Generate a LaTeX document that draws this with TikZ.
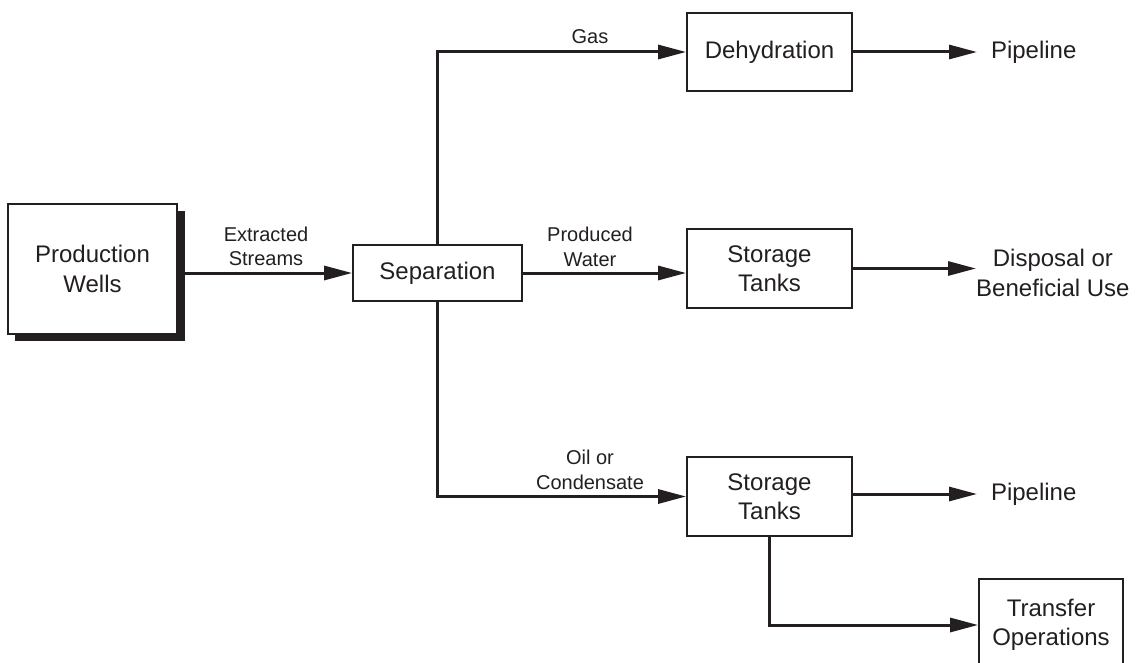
\documentclass[tikz,border=0pt]{standalone}
\usepackage{fontspec}
\setmainfont{Liberation Sans}
\usetikzlibrary{arrows.meta}
\definecolor{ink}{HTML}{231F20}
\begin{document}
\begin{tikzpicture}[x=1pt,y=-1pt,
  box/.style={draw=ink,line width=1.8pt,fill=white,text=ink,align=center,
    font=\fontsize{24}{29.5}\selectfont,inner sep=0pt},
  big/.style={text=ink,align=center,font=\fontsize{24}{29.5}\selectfont,inner sep=0pt},
  lbl/.style={text=ink,align=center,font=\fontsize{20}{24.5}\selectfont,inner sep=0pt},
  flow/.style={draw=ink,line width=3pt,-{Triangle[length=28pt,width=14pt]}},
  line/.style={draw=ink,line width=3pt}]
\clip (0,0) rectangle (1142,663);
% Production wells with shadow
\fill[ink] (15,211) rectangle (185,341);
\node[box,minimum width=169pt,minimum height=130pt] (pw) at (92.5,269) {Production\\Wells};
\node[box,minimum width=169pt,minimum height=56pt] (sep) at (437.5,273) {Separation};
\node[box,minimum width=165pt,minimum height=78pt] (dehy) at (769.5,52) {Dehydration};
\node[box,minimum width=165pt,minimum height=79pt] (st1) at (769.5,268.5) {Storage\\Tanks};
\node[box,minimum width=165pt,minimum height=79pt] (st2) at (769.5,496.5) {Storage\\Tanks};
\node[box,minimum width=144pt,minimum height=92pt] (tr) at (1051,625) {Transfer\\Operations};
% outputs
\node[big,anchor=west,outer xsep=14pt] (pipe1) at (977,52) {Pipeline};
\node[big,anchor=west] (disp) at (976,273) {Disposal or\\Beneficial Use};
\node[big,anchor=west,outer xsep=14pt] (pipe2) at (977,494) {Pipeline};
% labels
\node[lbl] (lext) at (266,246.5) {Extracted\\Streams};
\node[lbl] (lgas) at (590,37) {Gas};
\node[lbl] (lpw) at (590,247) {Produced\\Water};
\node[lbl] (loil) at (590,470) {Oil or\\Condensate};
% connectors
\draw[flow] (pw.east |- sep.west) -- (sep.west);
\draw[flow] (sep.north) |- (dehy.west);
\draw[flow] (sep.east) -- (sep.east -| st1.west);
\draw[flow] (sep.south) |- (st2.west);
\draw[flow] (dehy.east) -- (pipe1.west);
\draw[flow] (st1.east) -- (st1.east -| disp.west);
\draw[flow] (st2.east |- pipe2.west) -- (pipe2.west);
\draw[flow] (st2.south) |- (tr.west);
\end{tikzpicture}
\end{document}
